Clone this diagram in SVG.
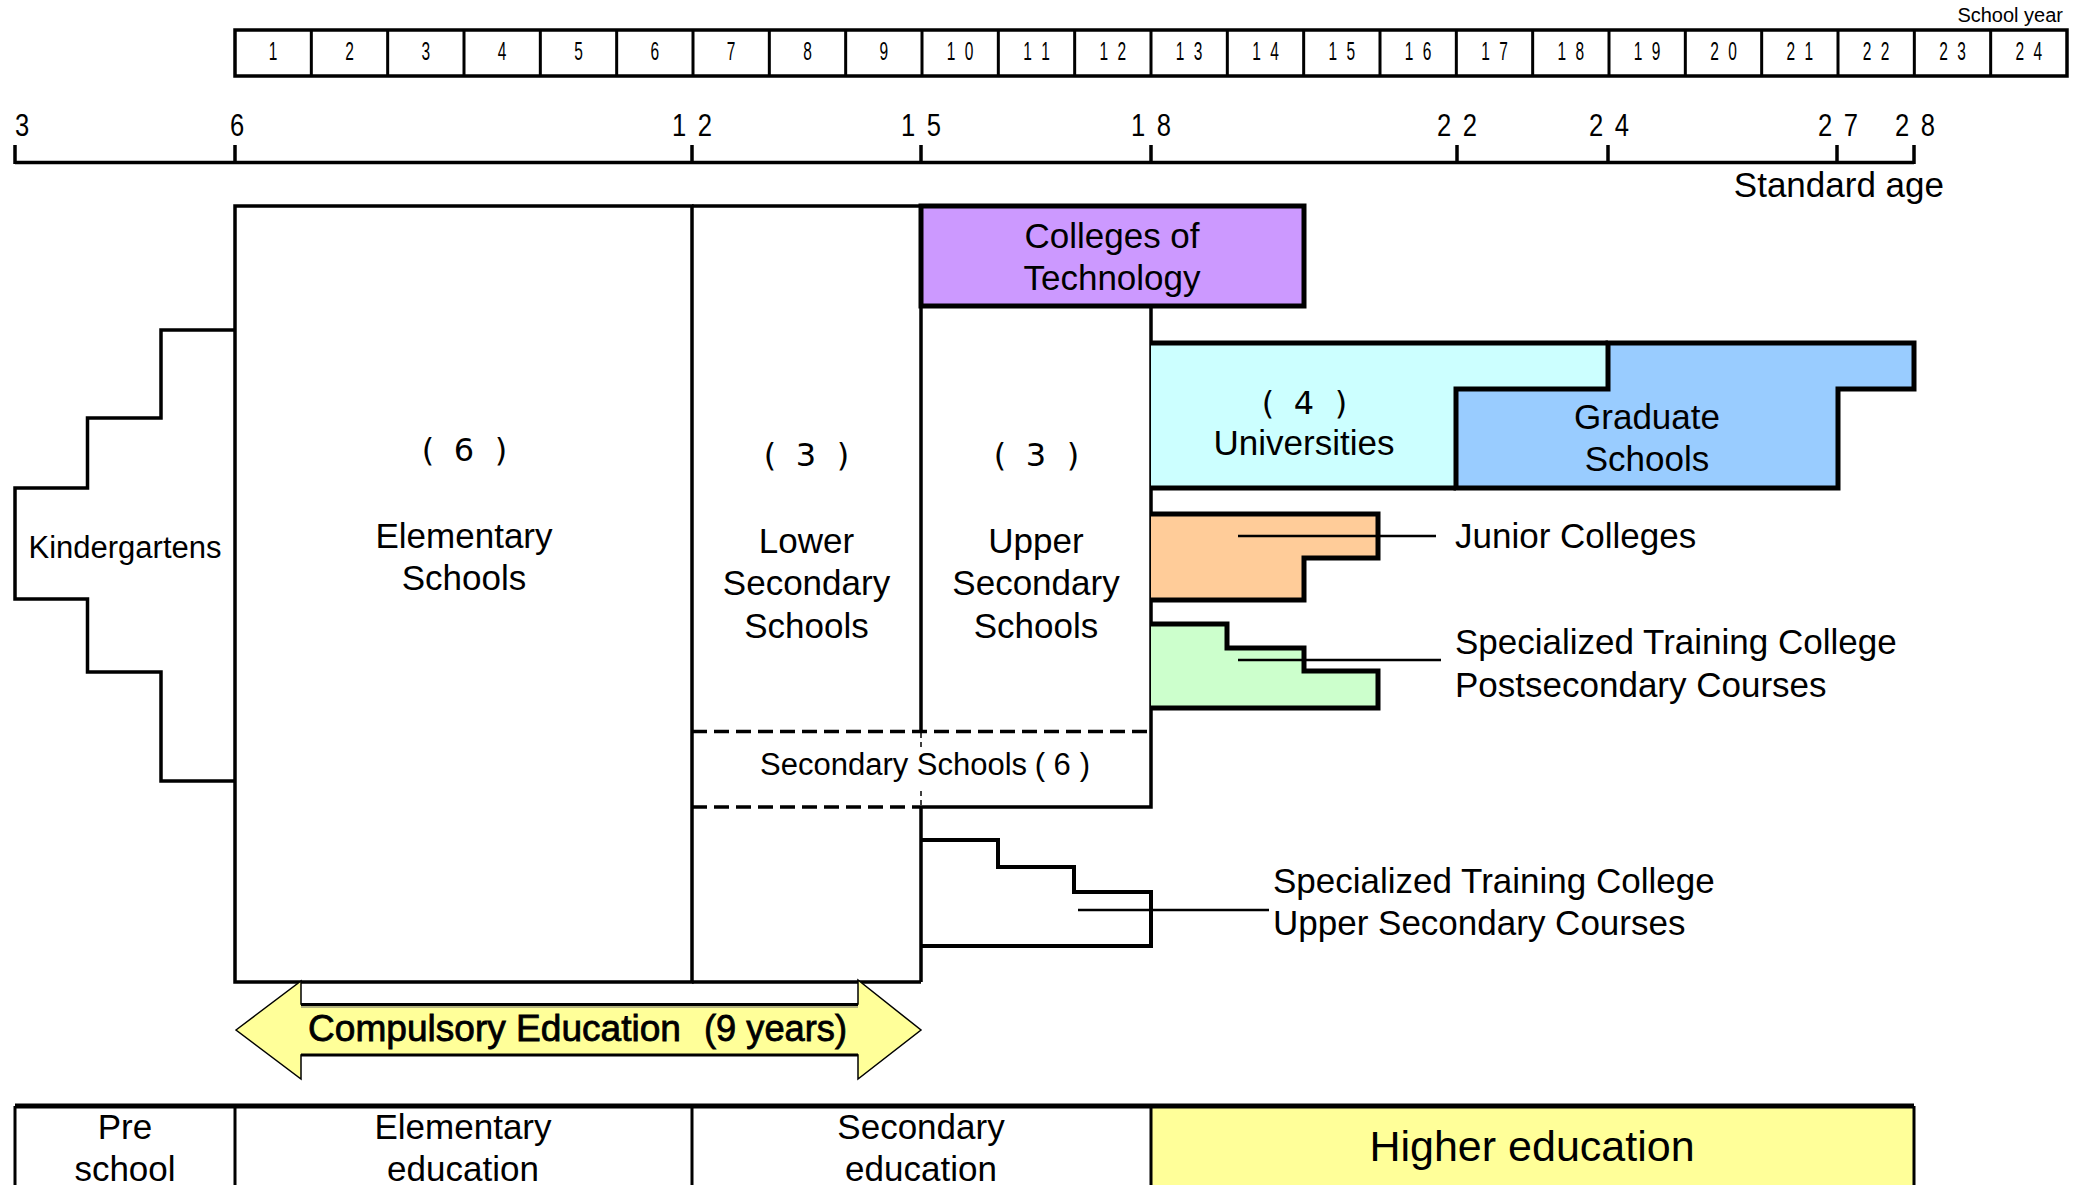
<svg xmlns="http://www.w3.org/2000/svg" width="2084" height="1185" viewBox="0 0 2084 1185">
<style>
text{font-family:"Liberation Sans",Arial,sans-serif;fill:#000}
.t35{font-size:35px;text-anchor:middle}
.lab{font-size:35px}
.yr{font-size:25px;text-anchor:middle}
.age{font-size:32px;text-anchor:middle}
.par{font-family:"DejaVu Sans","Liberation Sans",sans-serif;font-size:32px;text-anchor:middle}
.ln{fill:none;stroke:#000;stroke-width:3.5}
.thin{fill:none;stroke:#000;stroke-width:3}
.thick{stroke:#000;stroke-width:5}
.dash{fill:none;stroke:#000;stroke-width:3.5;stroke-dasharray:15 7}
.lead{fill:none;stroke:#000;stroke-width:2.5}
</style>
<rect width="2084" height="1185" fill="#fff"/>

<g id="school-year-scale">
<text x="2063" y="22" style="font-size:20px;text-anchor:end">School year</text>
<rect x="235" y="30" width="1832" height="46" class="ln"/>
<path class="thin" d="M311.33 30V76M387.67 30V76M464 30V76M540.33 30V76M616.67 30V76M693 30V76M769.33 30V76M845.67 30V76M922 30V76M998.33 30V76M1074.67 30V76M1151 30V76M1227.33 30V76M1303.67 30V76M1380 30V76M1456.33 30V76M1532.67 30V76M1609 30V76M1685.33 30V76M1761.67 30V76M1838 30V76M1914.33 30V76M1990.67 30V76"/>
<text class="yr" transform="translate(273.17 60) scale(0.62 1)">1</text>
<text class="yr" transform="translate(349.5 60) scale(0.62 1)">2</text>
<text class="yr" transform="translate(425.83 60) scale(0.62 1)">3</text>
<text class="yr" transform="translate(502.17 60) scale(0.62 1)">4</text>
<text class="yr" transform="translate(578.5 60) scale(0.62 1)">5</text>
<text class="yr" transform="translate(654.83 60) scale(0.62 1)">6</text>
<text class="yr" transform="translate(731.17 60) scale(0.62 1)">7</text>
<text class="yr" transform="translate(807.5 60) scale(0.62 1)">8</text>
<text class="yr" transform="translate(883.83 60) scale(0.62 1)">9</text>
<text class="yr" transform="translate(960.17 60) scale(0.62 1)" x="-14.5 14.5">10</text>
<text class="yr" transform="translate(1036.5 60) scale(0.62 1)" x="-14.5 14.5">11</text>
<text class="yr" transform="translate(1112.83 60) scale(0.62 1)" x="-14.5 14.5">12</text>
<text class="yr" transform="translate(1189.17 60) scale(0.62 1)" x="-14.5 14.5">13</text>
<text class="yr" transform="translate(1265.5 60) scale(0.62 1)" x="-14.5 14.5">14</text>
<text class="yr" transform="translate(1341.83 60) scale(0.62 1)" x="-14.5 14.5">15</text>
<text class="yr" transform="translate(1418.17 60) scale(0.62 1)" x="-14.5 14.5">16</text>
<text class="yr" transform="translate(1494.5 60) scale(0.62 1)" x="-14.5 14.5">17</text>
<text class="yr" transform="translate(1570.83 60) scale(0.62 1)" x="-14.5 14.5">18</text>
<text class="yr" transform="translate(1647.17 60) scale(0.62 1)" x="-14.5 14.5">19</text>
<text class="yr" transform="translate(1723.5 60) scale(0.62 1)" x="-14.5 14.5">20</text>
<text class="yr" transform="translate(1799.83 60) scale(0.62 1)" x="-14.5 14.5">21</text>
<text class="yr" transform="translate(1876.17 60) scale(0.62 1)" x="-14.5 14.5">22</text>
<text class="yr" transform="translate(1952.5 60) scale(0.62 1)" x="-14.5 14.5">23</text>
<text class="yr" transform="translate(2028.83 60) scale(0.62 1)" x="-14.5 14.5">24</text>
</g>

<g id="standard-age-scale">
<path class="ln" d="M15 162.5H1914M15 145V164M235 145V164M692 145V164M921 145V164M1151 145V164M1457 145V164M1608 145V164M1837 145V164M1914 145V164"/>
<text class="age" transform="translate(22 136) scale(0.8 1)">3</text>
<text class="age" transform="translate(237 136) scale(0.8 1)">6</text>
<text class="age" transform="translate(692 136) scale(0.8 1)" x="-16 16">12</text>
<text class="age" transform="translate(921 136) scale(0.8 1)" x="-16 16">15</text>
<text class="age" transform="translate(1151 136) scale(0.8 1)" x="-16 16">18</text>
<text class="age" transform="translate(1457 136) scale(0.8 1)" x="-16 16">22</text>
<text class="age" transform="translate(1609 136) scale(0.8 1)" x="-16 16">24</text>
<text class="age" transform="translate(1838 136) scale(0.8 1)" x="-16 16">27</text>
<text class="age" transform="translate(1915 136) scale(0.8 1)" x="-16 16">28</text>
<text x="1944" y="197" style="font-size:35px;text-anchor:end">Standard age</text>
</g>

<g id="kindergartens">
<path class="ln" d="M235 330H161V418H87.5V488H15V599H87.5V672H161V781H235"/>
<text x="125" y="558" style="font-size:31px;text-anchor:middle">Kindergartens</text>
</g>

<g id="elementary-schools">
<rect x="235" y="206" width="457" height="776" class="ln"/>
<text class="par" x="428 464 501" y="461">(6)</text>
<text class="t35" x="464" y="548">Elementary</text>
<text class="t35" x="464" y="590">Schools</text>
</g>

<g id="lower-secondary-schools">
<path class="ln" d="M692 206H921M921 206V731M921 807V982M692 982H921"/>
<path d="M921 733V749M921 791V806" fill="none" stroke="#000" stroke-width="1.5" stroke-dasharray="5 4"/>
<text class="par" x="770 806 843" y="466">(3)</text>
<text class="t35" x="806.5" y="553">Lower</text>
<text class="t35" x="806.5" y="595">Secondary</text>
<text class="t35" x="806.5" y="638">Schools</text>
</g>

<g id="upper-secondary-schools">
<path class="ln" d="M1151 306V807H921"/>
<text class="par" x="1000 1036 1073" y="466">(3)</text>
<text class="t35" x="1036" y="553">Upper</text>
<text class="t35" x="1036" y="595">Secondary</text>
<text class="t35" x="1036" y="638">Schools</text>
</g>

<g id="secondary-schools">
<path class="dash" d="M692 731.5H1151M692 807H921"/>
<text x="760" y="775" style="font-size:31px">Secondary Schools</text>
<text x="1040 1062 1085" y="775" style="font-size:31px;text-anchor:middle">(6)</text>
</g>

<g id="colleges-of-technology">
<rect x="921" y="206" width="383" height="100" fill="#CC99FF" class="thick"/>
<text class="t35" x="1112" y="248">Colleges of</text>
<text class="t35" x="1112" y="290">Technology</text>
</g>

<g id="universities">
<path d="M1151 343H1608V389H1456V488H1151Z" fill="#CCFFFF"/>
<path d="M1151 343H1608M1456 488H1151" fill="none" class="thick"/>
<text class="par" x="1268 1304 1341" y="414">(4)</text>
<text class="t35" x="1304" y="455">Universities</text>
</g>

<g id="graduate-schools">
<path d="M1608 343H1914V389H1838V488H1456V389H1608Z" fill="#99CCFF" class="thick" stroke-linejoin="miter"/>
<text class="t35" x="1647" y="429">Graduate</text>
<text class="t35" x="1647" y="471">Schools</text>
</g>

<g id="junior-colleges">
<path d="M1151 514H1378V558H1304V600H1151" fill="#FFCC99" class="thick"/>
<text class="lab" x="1455" y="548">Junior Colleges</text>
</g>

<g id="specialized-postsecondary">
<path d="M1151 624H1227V648H1304V671H1378V708H1151" fill="#CCFFCC" class="thick"/>
<text class="lab" x="1455" y="654">Specialized Training College</text>
<text class="lab" x="1455" y="697">Postsecondary Courses</text>
</g>

<g id="specialized-upper-secondary">
<path d="M921 840H998V867H1074V892H1151V946H921" fill="none" stroke="#000" stroke-width="4"/>
<text class="lab" x="1273" y="893">Specialized Training College</text>
<text class="lab" x="1273" y="935">Upper Secondary Courses</text>
</g>

<g id="connectors">
<path class="lead" d="M1238 536H1436"/>
<path class="lead" d="M1238 660H1441"/>
<path class="lead" d="M1078 910H1269"/>
</g>

<g id="compulsory-education">
<path d="M236 1030L301 981V1004H858V980L921 1030L858 1079V1055H301V1079Z" fill="#FFFF99" stroke="#000" stroke-width="1.5" stroke-linejoin="miter"/>
<path d="M301 1004.5H858M301 1055H858" fill="none" stroke="#000" stroke-width="3"/>
<path d="M301 1007H858" fill="none" stroke="#9a9a7a" stroke-width="1.5"/>
<text x="308" y="1041" style="font-size:37px;stroke:#000;stroke-width:0.8" textLength="373" lengthAdjust="spacingAndGlyphs">Compulsory Education</text>
<text x="704" y="1041" style="font-size:37px;stroke:#000;stroke-width:0.8" textLength="143" lengthAdjust="spacingAndGlyphs">(9 years)</text>
</g>

<g id="education-stages">
<rect x="1151" y="1106" width="763" height="85" fill="#FFFF99"/>
<path d="M15 1106H1914" fill="none" stroke="#000" stroke-width="5"/>
<path class="thin" d="M15 1106V1190M235 1106V1190M692 1106V1190M1151 1106V1190M1914 1106V1190"/>
<text class="t35" x="125" y="1139">Pre</text>
<text class="t35" x="125" y="1181">school</text>
<text class="t35" x="463" y="1139">Elementary</text>
<text class="t35" x="463" y="1181">education</text>
<text class="t35" x="921" y="1139">Secondary</text>
<text class="t35" x="921" y="1181">education</text>
<text x="1532" y="1161" style="font-size:43px;text-anchor:middle">Higher education</text>
</g>
</svg>
